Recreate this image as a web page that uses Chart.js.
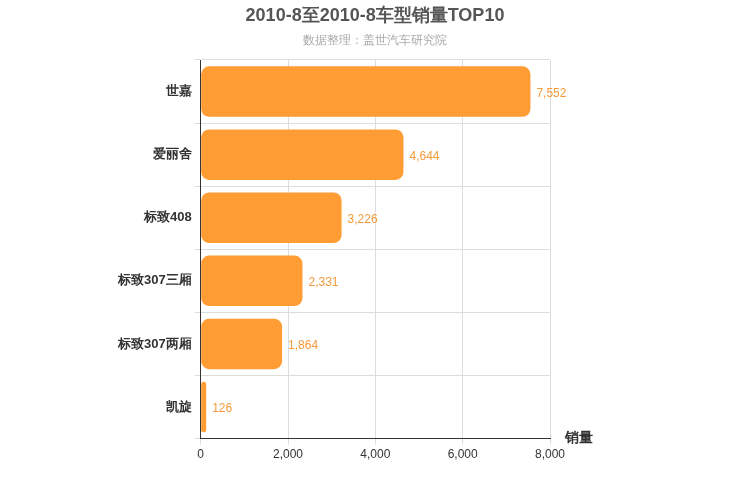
<!DOCTYPE html>
<html>
<head>
<script src="https://cdn.jsdelivr.net/npm/chart.js"></script>
<style>
body { margin: 0; background: #fff; }
#wrap { width: 750px; height: 500px; }
</style>
</head>
<body>
<div id="wrap"><canvas id="c"></canvas></div>
<script>
const models = ['世嘉', '爱丽舍', '标致408', '标致307三厢', '标致307两厢', '凯旋'];
const sales = [7552, 4644, 3226, 2331, 1864, 126];
const xTicks = [0, 2000, 4000, 6000, 8000];

const valueLabels = {
    id: 'valueLabels',
    afterDatasetsDraw(chart) {
        const ctx = chart.ctx;
        const meta = chart.getDatasetMeta(0);
        ctx.save();
        ctx.font = '12px Arial';
        ctx.fillStyle = '#F49A3A';
        ctx.textBaseline = 'middle';
        meta.data.forEach((bar, i) => {
            ctx.fillText(sales[i].toLocaleString('en-US'), bar.x + 6, bar.y + 2);
        });
        // axis title
        ctx.font = 'bold 14px Arial';
        ctx.fillStyle = '#333';
        ctx.fillText('销量', 565, chart.chartArea.bottom);
        // title and subtitle, centred on the page
        ctx.textAlign = 'center';
        ctx.font = 'bold 18px Arial';
        ctx.fillStyle = '#555';
        ctx.fillText('2010-8至2010-8车型销量TOP10', 375, 16);
        ctx.font = '12px Arial';
        ctx.fillStyle = '#aaa';
        ctx.fillText('数据整理：盖世汽车研究院', 375, 41);
        ctx.restore();
    }
};

new Chart(document.getElementById('c'), {
    type: 'bar',
    data: {
        labels: models,
        datasets: [{
            data: sales,
            backgroundColor: '#FF9C33',
            borderRadius: 8,
            borderSkipped: false,
            barPercentage: 0.8,
            categoryPercentage: 1.0
        }]
    },
    options: {
        indexAxis: 'y',
        responsive: true,
        maintainAspectRatio: false,
        animation: false,
        layout: { padding: { left: 115, right: 200, top: 60, bottom: 35 } },
        plugins: {
            legend: { display: false },
            tooltip: { enabled: false }
        },
        scales: {
            x: {
                min: 0, max: 8000,
                afterBuildTicks: a => { a.ticks = xTicks.map(v => ({ value: v })); },
                ticks: { color: '#333', font: { size: 12 }, callback: v => v.toLocaleString('en-US') },
                grid: { color: '#ddd', tickLength: 6 },
                border: { color: '#333' }
            },
            y: {
                ticks: { color: '#333', font: { size: 13, weight: 'bold' } },
                grid: { color: '#ddd', offset: true, tickLength: 6 },
                border: { color: '#333' }
            }
        }
    },
    plugins: [valueLabels]
});
</script>
</body>
</html>
